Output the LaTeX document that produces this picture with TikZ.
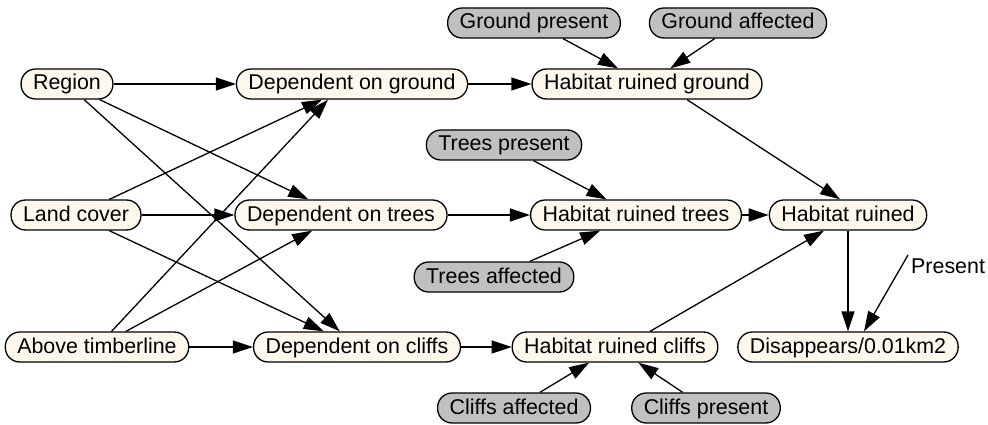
\documentclass[tikz,border=0pt]{standalone}
\usepackage{fontspec}
\setmainfont{Liberation Sans}
\usetikzlibrary{arrows.meta,calc}
\definecolor{cream}{RGB}{254,248,236}
\definecolor{grayfill}{RGB}{192,192,192}
\tikzset{
  bnode/.style={draw=black, line width=1.3pt, rectangle, rounded corners=14.5pt,
    minimum height=30pt, inner xsep=12pt, inner ysep=0pt,
    text height=16pt, text depth=4pt, fill=cream,
    font=\fontsize{21.4}{24}\selectfont},
  gnode/.style={bnode, fill=grayfill},
  arr/.style={draw=black, line width=1.3pt, -{Triangle[length=20pt,width=13pt]}},
  lbl/.style={font=\fontsize{21.4}{24}\selectfont, inner sep=0pt, text height=16pt, text depth=4pt}
}
\begin{document}
\begin{tikzpicture}[x=1pt,y=-1pt]
\useasboundingbox (0,0) rectangle (988,425);
% nodes
\node[gnode] (gp)   at (534,23)  {Ground present};
\node[gnode] (ga)   at (738,23)  {Ground affected};
\node[bnode] (reg)  at (67,84)   {Region};
\node[bnode] (depg) at (352,84)  {Dependent on ground};
\node[bnode] (hrg)  at (647,84)  {Habitat ruined ground};
\node[gnode] (tp)   at (504,145) {Trees present};
\node[bnode] (lc)   at (76,215)  {Land cover};
\node[bnode] (dept) at (341,215) {Dependent on trees};
\node[bnode] (hrt)  at (636,215) {Habitat ruined trees};
\node[bnode] (hr)   at (848,215) {Habitat ruined};
\node[gnode] (ta)   at (494,277) {Trees affected};
\node[bnode] (at)   at (97,347)  {Above timberline};
\node[bnode] (depc) at (357,347) {Dependent on cliffs};
\node[bnode] (hrc)  at (615,347) {Habitat ruined cliffs};
\node[bnode] (dis)  at (848,347) {Disappears/0.01km2};
\node[gnode] (ca)   at (514,408) {Cliffs affected};
\node[gnode] (cp)   at (706,408) {Cliffs present};
\coordinate (pst) at (908,255);
\node[lbl, anchor=west] (plabel) at (911,267) {Present};
% edges into the "Dependent" nodes
\draw[arr] (reg) -- (depg);
\draw[arr] (reg) -- (dept);
\draw[arr] (reg) -- (depc);
\draw[arr] (lc) -- ($(depg.south)+(-30,0)$);
\draw[arr] (lc) -- (dept);
\draw[arr] (lc) -- (depc);
\draw[arr] (at) -- ($(depg.south)+(-24,0)$);
\draw[arr] (at) -- (dept);
\draw[arr] (at) -- (depc);
% habitat nodes
\draw[arr] (depg) -- (hrg);
\draw[arr] (gp) -- (hrg);
\draw[arr] (ga) -- (hrg);
\draw[arr] (dept) -- (hrt);
\draw[arr] (tp) -- (hrt);
\draw[arr] (ta) -- (hrt);
\draw[arr] (depc) -- (hrc);
\draw[arr] (ca) -- (hrc);
\draw[arr] (cp) -- (hrc);
\draw[arr] ($(hrg.south)+(40,0)$) -- ($(hr.north)+(-8,0)$);
\draw[arr] (hrt) -- (hr);
\draw[arr] ($(hrc.north)+(35,0)$) -- ($(hr.south)+(-24,0)$);
\draw[arr] (hr) -- (dis);
\draw[arr] (pst) -- ([xshift=16pt]dis.north);
\end{tikzpicture}
\end{document}
